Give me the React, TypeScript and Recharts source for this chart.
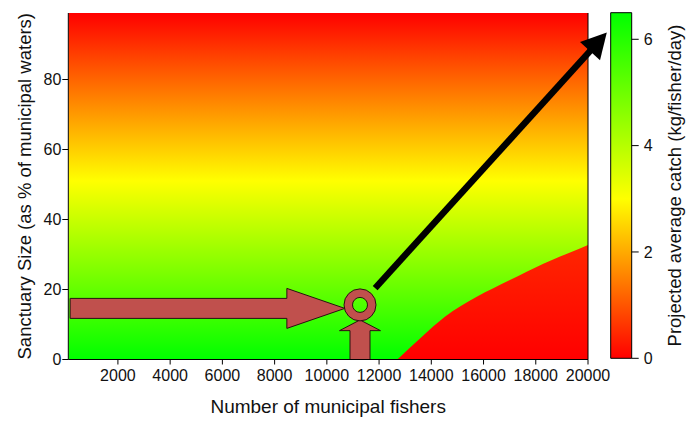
import { Area, Bar, BarChart, ComposedChart, ReferenceDot, ReferenceLine, XAxis, YAxis } from "recharts";

// axes
const fisherRange = [100, 20000];
const fisherTicks = [2000, 4000, 6000, 8000, 10000, 12000, 14000, 16000, 18000, 20000];
const sanctuaryMax = 99;
const sanctuaryTicks = [0, 20, 40, 60, 80];
const catchMax = 6.5;
const catchTicks = [0, 2, 4, 6];

// colour scale of the catch (kg/fisher/day)
const scaleCatch = [0, 3, 6.5];
const scaleColors = ["#ff0000", "#ffff00", "#00ff00"];

// catch over the open field, by sanctuary size
const fieldSanctuary = [0, 51, 99];
const fieldCatch = [6.5, 3, 0];

// collapse zone (lower right), edge
const collapseFishers = [12700, 13640, 14520, 15740, 17010, 17650, 18930, 19690, 20000];
const collapseSanctuary = [0, 6.5, 12.2, 17.9, 22.7, 25.1, 29.4, 31.7, 32.7];
const collapseCatch = [0.45, 0]; // edge, floor

// annotations
const current = { fishers: 11270, sanctuary: 15.6 };
const fromLeft = [{ x: 170, y: 14.6 }, { x: 10690, y: 14.6 }];
const fromBelow = [{ x: 11270, y: 0 }, { x: 11270, y: 11.3 }];
const trend = [{ x: 11850, y: 20.4 }, { x: 20720, y: 93.4 }];

const font = "'Liberation Sans', Arial, sans-serif";
const ink = "#111";
const arrowFill = "#c0504d";
const arrowEdge = "#2a1010";

const rows = [
  { fishers: fisherRange[0], field: sanctuaryMax, collapse: null as number | null },
  ...collapseFishers.map((f, i) => ({ fishers: f, field: sanctuaryMax, collapse: collapseSanctuary[i] })),
];
const cbRows = [{ k: "catch", v: catchMax }];

function rgb(h: string) {
  return [1, 3, 5].map((i) => parseInt(h.slice(i, i + 2), 16));
}
function catchColour(v: number) {
  let i = 0;
  while (i < scaleCatch.length - 2 && v > scaleCatch[i + 1]) i++;
  const t = Math.max(0, Math.min(1, (v - scaleCatch[i]) / (scaleCatch[i + 1] - scaleCatch[i])));
  const a = rgb(scaleColors[i]);
  const b = rgb(scaleColors[i + 1]);
  const c = a.map((x, j) => Math.round(x + (b[j] - x) * t));
  return `rgb(${c[0]},${c[1]},${c[2]})`;
}

// gradient stops, top (offset 0) to bottom (offset 1)
const fieldStops = fieldSanctuary
  .map((s, i) => ({ offset: (sanctuaryMax - s) / sanctuaryMax, color: catchColour(fieldCatch[i]) }))
  .sort((a, b) => a.offset - b.offset);
const scaleStops = scaleCatch
  .map((c, i) => ({ offset: (catchMax - c) / catchMax, color: scaleColors[i] }))
  .sort((a, b) => a.offset - b.offset);

function blockArrow(shaft: number, head: number, headLen: number) {
  return (p: any) => {
    const { x1, y1, x2, y2 } = p;
    const len = Math.hypot(x2 - x1, y2 - y1) || 1;
    const ux = (x2 - x1) / len;
    const uy = (y2 - y1) / len;
    const nx = -uy;
    const ny = ux;
    const bx = x2 - ux * headLen;
    const by = y2 - uy * headLen;
    const pts = [
      [x1 + (nx * shaft) / 2, y1 + (ny * shaft) / 2],
      [bx + (nx * shaft) / 2, by + (ny * shaft) / 2],
      [bx + (nx * head) / 2, by + (ny * head) / 2],
      [x2, y2],
      [bx - (nx * head) / 2, by - (ny * head) / 2],
      [bx - (nx * shaft) / 2, by - (ny * shaft) / 2],
      [x1 - (nx * shaft) / 2, y1 - (ny * shaft) / 2],
    ];
    return <polygon points={pts.map((q) => q.join(",")).join(" ")} fill={arrowFill} stroke={arrowEdge} strokeWidth={1} />;
  };
}

function lineArrow(p: any) {
  const { x1, y1, x2, y2 } = p;
  const len = Math.hypot(x2 - x1, y2 - y1) || 1;
  const ux = (x2 - x1) / len;
  const uy = (y2 - y1) / len;
  const headLen = 25;
  const head = 27;
  const bx = x2 - ux * headLen;
  const by = y2 - uy * headLen;
  const pts = [
    [x2, y2],
    [bx - (uy * head) / 2, by + (ux * head) / 2],
    [bx + (uy * head) / 2, by - (ux * head) / 2],
  ];
  return (
    <g>
      <line x1={x1} y1={y1} x2={bx + ux * 4} y2={by + uy * 4} stroke="#000" strokeWidth={6.5} />
      <polygon points={pts.map((q) => q.join(",")).join(" ")} fill="#000" />
    </g>
  );
}

function ring(p: any) {
  const { cx, cy } = p;
  return (
    <g>
      <circle cx={cx} cy={cy} r={11.75} fill="none" stroke={arrowFill} strokeWidth={8.5} />
      <circle cx={cx} cy={cy} r={16} fill="none" stroke={arrowEdge} strokeWidth={1} />
      <circle cx={cx} cy={cy} r={7.5} fill="none" stroke={arrowEdge} strokeWidth={1} />
    </g>
  );
}

export default function App() {
  return (
    <div style={{ position: "absolute", left: 0, top: 0, width: 689, height: 421, background: "#fff", fontFamily: font }}>
      <div style={{ position: "absolute", left: 0, top: 0 }}>
        <ComposedChart width={689} height={421} data={rows} margin={{ top: 13, right: 96, bottom: 3.5, left: 8.3 }}>
          <defs>
            <linearGradient id="fieldGrad" x1="0" y1="0" x2="0" y2="1">
              {fieldStops.map((s) => (
                <stop key={s.offset} offset={s.offset} stopColor={s.color} />
              ))}
            </linearGradient>
            <linearGradient id="collapseGrad" x1="0" y1="0" x2="0" y2="1">
              <stop offset={0} stopColor={catchColour(collapseCatch[0])} />
              <stop offset={1} stopColor={catchColour(collapseCatch[1])} />
            </linearGradient>
          </defs>
          <XAxis
            dataKey="fishers"
            type="number"
            domain={fisherRange}
            ticks={fisherTicks}
            allowDataOverflow
            height={58}
            tickSize={5}
            tickMargin={5}
            stroke="#000"
            tick={{ fill: ink, fontSize: 16, fontFamily: font }}
            label={{ value: "Number of municipal fishers", position: "insideBottom", offset: 5, fill: ink, fontSize: 19, fontFamily: font }}
          />
          <YAxis
            type="number"
            domain={[0, sanctuaryMax]}
            ticks={sanctuaryTicks}
            allowDataOverflow
            width={60}
            tickSize={6}
            tickMargin={1}
            stroke="#000"
            tick={{ fill: ink, fontSize: 16, fontFamily: font }}
            label={{
              value: "Sanctuary Size (as % of municipal waters)",
              angle: -90,
              position: "insideLeft",
              offset: 16.6,
              fill: ink,
              fontSize: 18.5,
              fontFamily: font,
              style: { textAnchor: "middle" },
            }}
          />
          <YAxis yAxisId="r" orientation="right" type="number" domain={[0, sanctuaryMax]} ticks={sanctuaryTicks} width={5} tickSize={4} tick={false} stroke="#000" />
          <Area dataKey="field" type="linear" fill="url(#fieldGrad)" fillOpacity={1} stroke="none" dot={false} activeDot={false} isAnimationActive={false} />
          <Area dataKey="collapse" type="monotone" fill="url(#collapseGrad)" fillOpacity={1} stroke="none" dot={false} activeDot={false} isAnimationActive={false} />
          <ReferenceLine segment={fromLeft} ifOverflow="visible" shape={blockArrow(20, 40, 58)} />
          <ReferenceLine segment={fromBelow} ifOverflow="visible" shape={blockArrow(20, 41, 10.7)} />
          <ReferenceLine segment={trend} ifOverflow="visible" shape={lineArrow} />
          <ReferenceDot x={current.fishers} y={current.sanctuary} r={16} ifOverflow="visible" shape={ring} />
        </ComposedChart>
      </div>
      <div style={{ position: "absolute", left: 0, top: 0 }}>
        <BarChart width={689} height={421} data={cbRows} barCategoryGap={0} margin={{ top: 12.7, right: 7.3, bottom: 62.7, left: 610.7 }}>
          <defs>
            <linearGradient id="cbGrad" x1="0" y1="0" x2="0" y2="1">
              {scaleStops.map((s) => (
                <stop key={s.offset} offset={s.offset} stopColor={s.color} />
              ))}
            </linearGradient>
          </defs>
          <XAxis dataKey="k" hide />
          <YAxis
            orientation="right"
            type="number"
            domain={[0, catchMax]}
            ticks={catchTicks}
            width={50}
            tickSize={7}
            tickMargin={5}
            axisLine={false}
            stroke="#000"
            tick={{ fill: ink, fontSize: 16, fontFamily: font }}
            label={{
              value: "Projected average catch (kg/fisher/day)",
              angle: -90,
              position: "insideRight",
              offset: 6.8,
              fill: ink,
              fontSize: 18.5,
              fontFamily: font,
              style: { textAnchor: "middle" },
            }}
          />
          <Bar dataKey="v" fill="url(#cbGrad)" stroke="#000" strokeWidth={1} isAnimationActive={false} />
        </BarChart>
      </div>
    </div>
  );
}
